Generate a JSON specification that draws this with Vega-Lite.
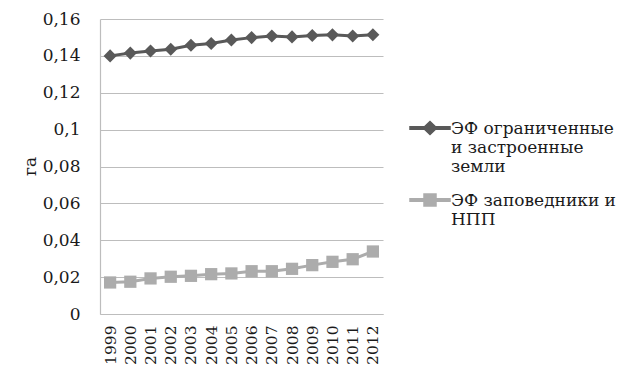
{
  "$schema": "https://vega.github.io/schema/vega-lite/v6.json",
  "width": 283,
  "height": 295,
  "autosize": {"type": "none"},
  "padding": {"left": 100, "top": 19, "right": 234, "bottom": 53},
  "background": "white",
  "config": {
    "view": {"stroke": null},
    "font": "DejaVu Serif",
    "axis": {"labelFont": "DejaVu Serif", "titleFont": "DejaVu Serif", "labelColor": "#1a1a1a", "titleColor": "#1a1a1a"},
    "legend": {"labelFont": "DejaVu Serif"}
  },
  "datasets": {
    "footprint": [
      {"year": "1999", "series": "ЭФ ограниченные|и застроенные|земли", "value": 0.1400},
      {"year": "2000", "series": "ЭФ ограниченные|и застроенные|земли", "value": 0.1415},
      {"year": "2001", "series": "ЭФ ограниченные|и застроенные|земли", "value": 0.1427},
      {"year": "2002", "series": "ЭФ ограниченные|и застроенные|земли", "value": 0.1436},
      {"year": "2003", "series": "ЭФ ограниченные|и застроенные|земли", "value": 0.1458},
      {"year": "2004", "series": "ЭФ ограниченные|и застроенные|земли", "value": 0.1467},
      {"year": "2005", "series": "ЭФ ограниченные|и застроенные|земли", "value": 0.1486},
      {"year": "2006", "series": "ЭФ ограниченные|и застроенные|земли", "value": 0.1499},
      {"year": "2007", "series": "ЭФ ограниченные|и застроенные|земли", "value": 0.1508},
      {"year": "2008", "series": "ЭФ ограниченные|и застроенные|земли", "value": 0.1503},
      {"year": "2009", "series": "ЭФ ограниченные|и застроенные|земли", "value": 0.1510},
      {"year": "2010", "series": "ЭФ ограниченные|и застроенные|земли", "value": 0.1514},
      {"year": "2011", "series": "ЭФ ограниченные|и застроенные|земли", "value": 0.1508},
      {"year": "2012", "series": "ЭФ ограниченные|и застроенные|земли", "value": 0.1515},
      {"year": "1999", "series": "ЭФ заповедники и|НПП", "value": 0.0171},
      {"year": "2000", "series": "ЭФ заповедники и|НПП", "value": 0.0175},
      {"year": "2001", "series": "ЭФ заповедники и|НПП", "value": 0.0193},
      {"year": "2002", "series": "ЭФ заповедники и|НПП", "value": 0.0202},
      {"year": "2003", "series": "ЭФ заповедники и|НПП", "value": 0.0207},
      {"year": "2004", "series": "ЭФ заповедники и|НПП", "value": 0.0216},
      {"year": "2005", "series": "ЭФ заповедники и|НПП", "value": 0.0220},
      {"year": "2006", "series": "ЭФ заповедники и|НПП", "value": 0.0232},
      {"year": "2007", "series": "ЭФ заповедники и|НПП", "value": 0.0232},
      {"year": "2008", "series": "ЭФ заповедники и|НПП", "value": 0.0245},
      {"year": "2009", "series": "ЭФ заповедники и|НПП", "value": 0.0265},
      {"year": "2010", "series": "ЭФ заповедники и|НПП", "value": 0.0283},
      {"year": "2011", "series": "ЭФ заповедники и|НПП", "value": 0.0297},
      {"year": "2012", "series": "ЭФ заповедники и|НПП", "value": 0.0339}
    ]
  },
  "data": {"name": "footprint"},
  "encoding": {
    "x": {
      "field": "year",
      "type": "ordinal",
      "scale": {"type": "point", "padding": 0.5},
      "axis": {
        "title": null,
        "labelAngle": -90,
        "labelAlign": "right",
        "labelBaseline": "middle",
        "labelFontSize": 15.5,
        "labelPadding": 11,
        "ticks": false,
        "grid": false,
        "domainColor": "#bdbdbd",
        "domainWidth": 1.2
      }
    },
    "y": {
      "field": "value",
      "type": "quantitative",
      "scale": {"domain": [0, 0.16], "nice": false},
      "axis": {
        "title": "га",
        "titleFontSize": 17,
        "titleFontWeight": "normal",
        "titleAngle": -90,
        "titleBaseline": "alphabetic",
        "titleX": -65,
        "titleY": 147,
        "values": [0, 0.02, 0.04, 0.06, 0.08, 0.1, 0.12, 0.14, 0.16],
        "labelExpr": "replace(format(datum.value, '~g'), '.', ',')",
        "labelFontSize": 17,
        "labelPadding": 20,
        "ticks": false,
        "grid": true,
        "gridColor": "#bdbdbd",
        "gridWidth": 1.2,
        "domainColor": "#bdbdbd",
        "domainWidth": 1.2
      }
    },
    "color": {
      "field": "series",
      "type": "nominal",
      "scale": {
        "domain": ["ЭФ ограниченные|и застроенные|земли", "ЭФ заповедники и|НПП"],
        "range": ["#595959", "#acacac"]
      },
      "legend": {
        "title": null,
        "orient": "none",
        "legendX": 319,
        "legendY": 98,
        "padding": 0,
        "labelExpr": "split(datum.label, '|')",
        "labelFontSize": 17,
        "labelColor": "#1a1a1a",
        "labelBaseline": "alphabetic",
        "labelLineHeight": 23.5,
        "labelLimit": 300,
        "labelOffset": 10,
        "symbolSize": 400,
        "symbolOffset": 0,
        "rowPadding": 14,
        "encode": {
          "labels": {"update": {"dy": {"value": 6}}}
        }
      }
    }
  },
  "layer": [
    {"mark": {"type": "line", "strokeWidth": 3}},
    {
      "transform": [{"filter": "indexof(datum.series, 'НПП') < 0"}],
      "mark": {"type": "point", "filled": true, "opacity": 1, "shape": "diamond", "size": 170}
    },
    {
      "transform": [{"filter": "indexof(datum.series, 'НПП') >= 0"}],
      "mark": {"type": "point", "filled": true, "opacity": 1, "shape": "square", "size": 150}
    },
    {
      "transform": [{"filter": "false"}],
      "mark": {"type": "point", "filled": true, "size": 400},
      "encoding": {
        "shape": {
          "field": "series",
          "type": "nominal",
          "scale": {
            "domain": ["ЭФ ограниченные|и застроенные|земли", "ЭФ заповедники и|НПП"],
            "range": [
              "M-2,-0.13H-0.55L0,-0.65L0.55,-0.13H2V0.13H0.55L0,0.65L-0.55,0.13H-2Z",
              "M-2,-0.13H-0.6V-0.6H0.6V-0.13H2V0.13H0.6V0.6H-0.6V0.13H-2Z"
            ]
          }
        }
      }
    }
  ]
}
